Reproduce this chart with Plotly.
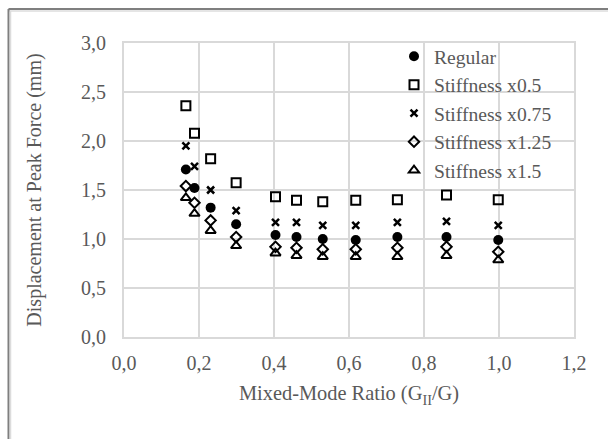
import plotly.graph_objects as go

# Mixed-mode ratio for each test case
mode_ratio = [0.165, 0.188, 0.231, 0.299, 0.404, 0.460, 0.530, 0.618, 0.729, 0.860, 0.998]

# Displacement at peak force (mm) for each stiffness case
disp_regular = [1.71, 1.52, 1.32, 1.15, 1.04, 1.02, 1.00, 0.99, 1.02, 1.02, 0.99]
disp_x050 = [2.36, 2.08, 1.82, 1.575, 1.43, 1.395, 1.38, 1.395, 1.40, 1.45, 1.40]
disp_x075 = [1.95, 1.74, 1.50, 1.29, 1.17, 1.17, 1.14, 1.14, 1.17, 1.18, 1.14]
disp_x125 = [1.54, 1.37, 1.19, 1.02, 0.92, 0.91, 0.895, 0.895, 0.91, 0.92, 0.87]
disp_x150 = [1.42, 1.26, 1.085, 0.93, 0.855, 0.83, 0.82, 0.82, 0.82, 0.83, 0.785]

series_names = ["Regular", "Stiffness x0.5", "Stiffness x0.75", "Stiffness x1.25", "Stiffness x1.5"]

x_ticks = [0.0, 0.2, 0.4, 0.6, 0.8, 1.0, 1.2]
y_ticks = [0.0, 0.5, 1.0, 1.5, 2.0, 2.5, 3.0]

TEXT = "#595959"
GRID = "#d9d9d9"
FONT = "Liberation Serif"

marker_styles = [
    dict(symbol="circle", size=10, color="black"),
    dict(symbol="square-open", size=9, color="black", line=dict(width=2, color="black")),
    dict(symbol="x-thin-open", size=7, color="black", line=dict(width=2.5, color="black")),
    dict(symbol="diamond-open", size=8, color="black", line=dict(width=2, color="black")),
    dict(symbol="triangle-up-open", size=9, color="black", line=dict(width=2, color="black")),
]

fig = go.Figure()
for i, (name, ys, mk) in enumerate(zip(series_names,
                                        [disp_regular, disp_x050, disp_x075, disp_x125, disp_x150],
                                        marker_styles)):
    fig.add_trace(go.Scatter(
        x=mode_ratio, y=ys, name=name, mode="markers",
        marker=mk, legendgroup=f"g{i}", showlegend=True,
    ))

# Outer frame strokes along the top and left edges of the page
W, H = 608, 439
L, R, T, B = 124, 34, 43, 102
pw, ph = W - L - R, H - T - B

def px(x):
    return (x - L) / pw

def py(y):
    return (H - B - y) / ph

frame = [
    dict(type="line", xref="paper", yref="paper", x0=px(8.5), x1=px(W), y0=py(9), y1=py(9),
         line=dict(color="#7f7f7f", width=2)),
    dict(type="line", xref="paper", yref="paper", x0=px(8.5), x1=px(W), y0=py(11), y1=py(11),
         line=dict(color="#dcdcdc", width=1.5)),
    dict(type="line", xref="paper", yref="paper", x0=px(8.5), x1=px(8.5), y0=py(9), y1=py(H),
         line=dict(color="#7f7f7f", width=2)),
    dict(type="line", xref="paper", yref="paper", x0=px(10.5), x1=px(10.5), y0=py(11), y1=py(H),
         line=dict(color="#dcdcdc", width=1.5)),
]

fig.update_layout(
    width=W, height=H,
    margin=dict(l=L, r=R, t=T, b=B),
    paper_bgcolor="white", plot_bgcolor="white",
    separators=", ",
    font=dict(family=FONT, color=TEXT, size=20),
    showlegend=True,
    legend=dict(
        x=px(394), y=py(37), xanchor="left", yanchor="top",
        bgcolor="rgba(0,0,0,0)", borderwidth=0,
        font=dict(family=FONT, color=TEXT, size=19.6),
        traceorder="grouped", tracegroupgap=0,
        itemwidth=30,
    ),
    shapes=frame,
    xaxis=dict(
        range=[0, 1.2], tickvals=x_ticks, tickformat=".1f",
        showgrid=True, gridcolor=GRID, gridwidth=2,
        zeroline=False, showline=True, linecolor=GRID, linewidth=2, mirror=True,
        ticks="outside", ticklen=7, tickcolor="rgba(0,0,0,0)",
        tickfont=dict(family=FONT, color=TEXT, size=20),
        title=dict(text="Mixed-Mode Ratio (G<sub>II</sub>/G)",
                   font=dict(family=FONT, color=TEXT, size=20.4), standoff=13),
        fixedrange=True,
    ),
    yaxis=dict(
        range=[0, 3.0], tickvals=y_ticks, tickformat=".1f",
        showgrid=True, gridcolor=GRID, gridwidth=2,
        zeroline=False, showline=True, linecolor=GRID, linewidth=2, mirror=True,
        ticks="outside", ticklen=12, tickcolor="rgba(0,0,0,0)",
        tickfont=dict(family=FONT, color=TEXT, size=20),
        title=dict(text="Displacement at Peak Force (mm)",
                   font=dict(family=FONT, color=TEXT, size=20), standoff=34),
        fixedrange=True,
    ),
)

fig.write_html("out.html", config=dict(displayModeBar=False))
